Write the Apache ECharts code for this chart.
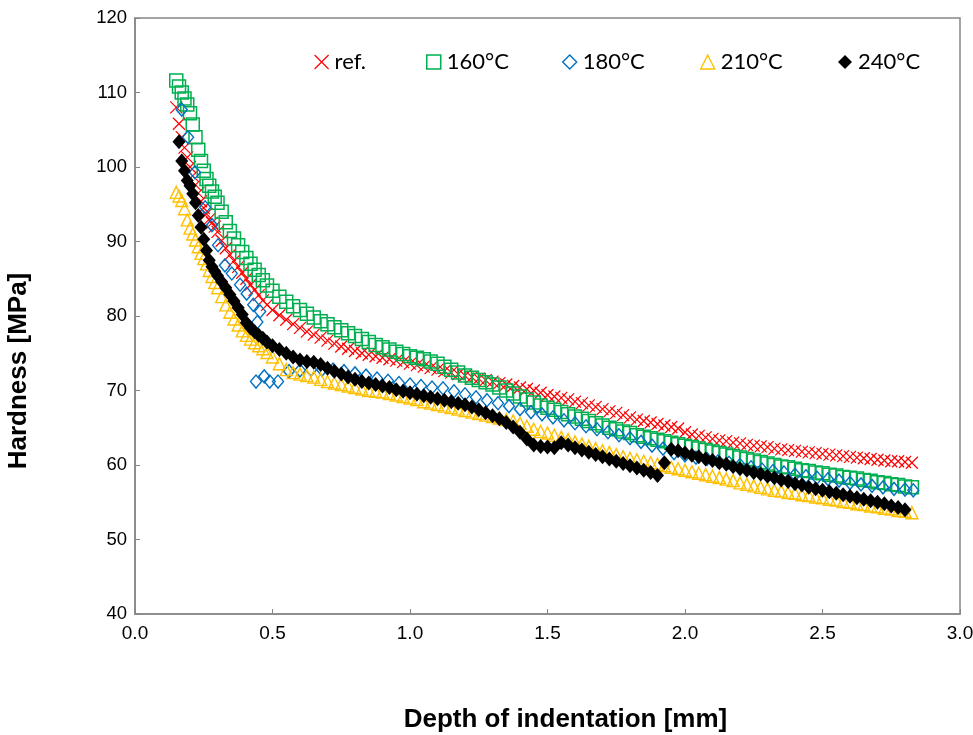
<!DOCTYPE html>
<html><head><meta charset="utf-8">
<script src="https://cdn.jsdelivr.net/npm/echarts@6/dist/echarts.min.js"></script>
<style>html,body{margin:0;padding:0;background:#fff}#c{width:973px;height:735px}</style>
</head><body><div id="c"></div>
<script>
// Shared depth grid [mm] for ref, 160, 210, 240 °C
const depth = [0.15,0.16,0.17,0.18,0.19,0.20,0.21,0.22,0.23,0.24,0.25,0.26,0.27,0.28,0.29,0.30,0.315,0.33,0.345,0.36,0.375,0.39,0.405,0.42,0.435,0.45,0.465,0.48,0.50,
0.525,0.55,0.575,0.6,0.625,0.65,0.675,0.7,0.725,0.75,0.775,0.8,0.825,0.85,0.875,0.9,0.925,0.95,0.975,1.0,
1.025,1.05,1.075,1.1,1.125,1.15,1.175,1.2,1.225,1.25,1.275,1.3,1.325,1.35,1.375,1.4,1.425,1.45,1.475,1.5,
1.525,1.55,1.575,1.6,1.625,1.65,1.675,1.7,1.725,1.75,1.775,1.8,1.825,1.85,1.875,1.9,1.925,1.95,1.975,2.0,
2.025,2.05,2.075,2.1,2.125,2.15,2.175,2.2,2.225,2.25,2.275,2.3,2.325,2.35,2.375,2.4,2.425,2.45,2.475,2.5,
2.525,2.55,2.575,2.6,2.625,2.65,2.675,2.7,2.725,2.75,2.775,2.8,2.825];

const hardRef = [108.0,105.8,104.0,102.6,101.3,100.0,98.8,97.6,96.5,95.4,94.5,93.7,93.0,92.5,92.0,91.3,90.1,89.1,88.2,87.4,86.6,85.8,85.0,84.2,83.5,82.8,82.1,81.5,80.8,
80.1,79.5,78.9,78.4,77.9,77.5,77.1,76.7,76.3,75.9,75.6,75.3,75.0,74.8,74.6,74.4,74.2,74.0,73.8,73.6,
73.4,73.2,73.0,72.8,72.6,72.4,72.2,72.0,71.8,71.6,71.4,71.2,71.0,70.8,70.6,70.4,70.2,70.0,69.7,69.4,
69.2,69.0,68.8,68.5,68.3,68.0,67.8,67.5,67.2,67.0,66.7,66.4,66.1,65.9,65.7,65.5,65.3,65.1,64.9,64.4,
64.1,63.9,63.7,63.5,63.3,63.2,63.0,62.9,62.7,62.6,62.5,62.4,62.2,62.1,62.0,61.9,61.8,61.7,61.6,61.5,
61.4,61.3,61.2,61.1,61.0,60.9,60.8,60.7,60.6,60.5,60.5,60.4,60.3];

const hard160 = [111.6,110.8,110.0,109.2,108.4,107.2,105.7,104.0,102.3,100.8,99.5,98.4,97.5,96.7,96.0,95.2,94.0,92.6,91.4,90.4,89.5,88.6,87.8,87.0,86.2,85.5,84.8,84.1,83.4,
82.6,81.9,81.3,80.8,80.3,79.8,79.3,78.9,78.5,78.1,77.7,77.3,76.9,76.5,76.1,75.8,75.5,75.2,74.9,74.6,
74.4,74.2,73.9,73.6,73.2,72.8,72.4,72.0,71.7,71.4,71.1,70.8,70.4,70.0,69.6,69.2,68.8,68.4,68.0,67.7,
67.4,67.1,66.8,66.5,66.2,65.9,65.6,65.3,65.0,64.8,64.5,64.3,64.0,63.8,63.6,63.4,63.2,63.0,62.8,62.6,
62.4,62.2,62.0,61.8,61.6,61.4,61.2,61.0,60.8,60.6,60.4,60.2,60.0,59.8,59.7,59.5,59.3,59.2,59.0,58.9,
58.7,58.6,58.4,58.3,58.2,58.0,57.9,57.7,57.6,57.4,57.3,57.1,57.0];

const hard210 = [96.6,96.1,95.5,94.4,92.9,91.8,91.0,90.2,89.3,88.4,87.7,87.0,86.1,85.3,84.5,83.8,82.6,81.5,80.5,79.6,78.8,78.0,77.4,76.9,76.4,76.0,75.6,75.1,74.5,
73.6,72.8,72.4,72.2,72.0,71.8,71.5,71.2,71.0,70.8,70.6,70.4,70.2,70.0,69.9,69.8,69.6,69.4,69.2,69.0,
68.8,68.5,68.3,68.1,67.9,67.7,67.5,67.3,67.1,66.9,66.7,66.5,66.3,66.1,65.9,65.6,65.2,64.8,64.5,64.3,
64.0,63.7,63.4,63.1,62.8,62.5,62.2,61.9,61.7,61.4,61.1,60.9,60.7,60.5,60.3,60.1,59.9,59.7,59.5,59.3,
59.1,58.9,58.7,58.5,58.3,58.1,57.9,57.6,57.4,57.2,57.0,56.8,56.6,56.5,56.3,56.2,56.0,55.9,55.7,55.6,
55.4,55.3,55.1,55.0,54.8,54.7,54.5,54.4,54.2,54.1,53.9,53.8,53.6];

const hard240 = [null,103.4,100.8,99.5,98.2,97.5,96.4,95.2,93.5,91.9,90.3,88.8,87.5,86.6,86.0,85.4,84.6,83.8,82.9,82.0,81.1,80.2,79.1,78.4,77.9,77.4,77.0,76.5,76.0,
75.5,75.0,74.5,74.1,73.9,73.8,73.5,73.0,72.6,72.2,71.8,71.5,71.2,71.0,70.8,70.6,70.4,70.1,69.9,69.7,
69.5,69.3,69.1,68.9,68.7,68.5,68.3,68.1,67.8,67.4,67.0,66.6,66.2,65.7,65.1,64.4,63.5,62.7,62.5,62.4,
62.3,63.0,62.7,62.3,62.0,61.7,61.4,61.1,60.8,60.5,60.2,59.9,59.6,59.3,59.0,58.6,60.3,62.1,61.9,61.6,
61.3,61.1,60.8,60.6,60.3,60.1,59.8,59.5,59.3,59.0,58.8,58.5,58.3,58.0,57.8,57.5,57.3,57.0,56.8,56.6,
56.4,56.2,56.0,55.8,55.6,55.4,55.2,55.0,54.8,54.5,54.3,54.0,null];

// 180 °C has its own (sparser) depth readings
const depth180 = [0.17,0.193,0.218,0.255,0.28,0.302,0.327,0.352,0.382,0.406,0.43,0.445,0.455,0.44,0.47,0.49,0.52,
0.56,0.6,0.64,0.68,0.72,0.76,0.8,0.84,0.88,0.92,0.96,1.0,1.04,1.08,1.12,1.16,1.2,1.24,1.28,1.32,1.36,1.4,1.44,1.48,1.52,1.56,1.6,1.64,1.68,1.72,1.76,1.8,1.84,1.88,1.92,1.96,2.0,2.04,2.08,2.12,2.16,2.2,2.24,2.28,2.32,2.36,2.4,2.44,2.48,2.52,2.56,2.6,2.64,2.68,2.72,2.76,2.8,2.83];
const hard180 = [107.7,104.0,99.3,94.6,92.2,89.5,86.8,85.7,84.2,83.0,81.5,79.2,80.6,71.2,71.9,71.2,71.2,
72.6,72.7,72.8,72.8,72.8,72.6,72.3,72.0,71.6,71.3,71.0,70.8,70.6,70.4,70.3,69.9,69.5,69.1,68.7,68.3,67.9,67.5,67.1,66.8,66.4,66.0,65.6,65.2,64.8,64.4,64.0,63.6,63.1,62.6,62.2,61.6,61.3,61.0,60.8,60.5,60.3,60.0,59.7,59.4,59.2,59.0,58.7,58.5,58.3,58.1,57.9,57.6,57.4,57.2,57.0,56.8,56.7,56.6];

const seriesNames = ['ref.', '160°C', '180°C', '210°C', '240°C'];
const xTicks = [0, 0.5, 1.0, 1.5, 2.0, 2.5, 3.0];

function pairs(xs, ys) {
  const out = [];
  for (let i = 0; i < xs.length; i++) if (ys[i] != null) out.push([xs[i], ys[i]]);
  return out;
}

const crossPath = 'path://M0,0L10,10M10,0L0,10';
const styles = [
  { symbol: crossPath, size: [12, 12], item: { color: 'rgba(0,0,0,0)', borderColor: '#FF0000', borderWidth: 1.2, opacity: 1 } },
  { symbol: 'rect', size: [13, 13], item: { color: 'rgba(0,0,0,0)', borderColor: '#00B050', borderWidth: 1.5, opacity: 1 } },
  { symbol: 'diamond', size: [11, 13], item: { color: 'rgba(0,0,0,0)', borderColor: '#0070C0', borderWidth: 1.4, opacity: 1 } },
  { symbol: 'triangle', size: [12, 12], item: { color: 'rgba(0,0,0,0)', borderColor: '#FFC000', borderWidth: 1.4, opacity: 1 } },
  { symbol: 'diamond', size: [13, 15], item: { color: '#000000', borderColor: '#000000', borderWidth: 0, opacity: 1 } }
];
const dataSets = [
  pairs(depth, hardRef), pairs(depth, hard160), pairs(depth180, hard180),
  pairs(depth, hard210), pairs(depth, hard240)
];

const legendLeft = [309, 421, 557, 695, 833];
const legends = seriesNames.map((n, i) => ({
  left: legendLeft[i], top: 46, itemWidth: 14, itemHeight: 14, itemGap: 0,
  selectedMode: false,
  textStyle: { fontFamily: 'Lato', fontSize: 22, color: '#000', padding: [0, 0, 0, 1] },
  data: [{ name: n, icon: styles[i].symbol, itemStyle: Object.assign({}, styles[i].item) }]
}));

const chart = echarts.init(document.getElementById('c'), null, { renderer: 'canvas' });
chart.setOption({
  animation: false,
  backgroundColor: '#fff',
  grid: { left: 135, right: 13, top: 18, bottom: 121, containLabel: false, outerBoundsMode: 'none',
    show: true, borderColor: '#868686', borderWidth: 1.5, backgroundColor: 'transparent' },
  legend: legends,
  xAxis: {
    type: 'value', min: 0, max: 3, interval: 0.5,
    axisLine: { show: true, lineStyle: { color: '#868686', width: 1.5 } },
    axisTick: { show: true, inside: true, length: 5, lineStyle: { color: '#868686' } },
    axisLabel: { color: '#000', fontFamily: 'Liberation Sans', fontSize: 19, margin: 10,
      formatter: v => (xTicks.indexOf(v) >= 0 ? v.toFixed(1) : '') },
    splitLine: { show: false },
    name: 'Depth of indentation [mm]', nameLocation: 'middle', nameGap: 93,
    nameTextStyle: { color: '#000', fontFamily: 'Liberation Sans', fontWeight: 'bold', fontSize: 26, padding: [0, 0, 0, 36] }
  },
  yAxis: {
    type: 'value', min: 40, max: 120, interval: 10,
    axisLine: { show: true, lineStyle: { color: '#868686', width: 1.5 } },
    axisTick: { show: true, inside: true, length: 5, lineStyle: { color: '#868686' } },
    axisLabel: { color: '#000', fontFamily: 'Liberation Sans', fontSize: 18.5, margin: 8 },
    splitLine: { show: false },
    name: 'Hardness [MPa]', nameLocation: 'middle', nameGap: 103, nameRotate: 90,
    nameTextStyle: { color: '#000', fontFamily: 'Liberation Sans', fontWeight: 'bold', fontSize: 26, padding: [0, 110, 0, 0] }
  },
  series: seriesNames.map((n, i) => ({
    name: n, type: 'scatter', data: dataSets[i],
    symbol: styles[i].symbol, symbolSize: styles[i].size,
    itemStyle: styles[i].item,
    emphasis: { disabled: true }, silent: true
  }))
});
</script></body></html>
